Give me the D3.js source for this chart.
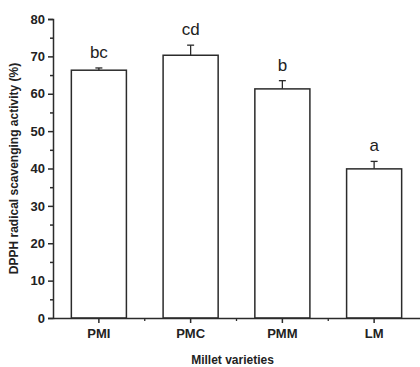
<!DOCTYPE html>
<html>
<head>
<meta charset="utf-8">
<script src="https://cdn.jsdelivr.net/npm/d3@7"></script>
<style>
  body { margin: 0; background: #fff; }
  svg text { font-family: "Liberation Sans", Arial, sans-serif; }
</style>
</head>
<body>
<div id="chart"></div>
<script>
// values
const varieties = ['PMI', 'PMC', 'PMM', 'LM'];
const activity = [66.3, 70.3, 61.3, 39.9];
const errors = [0.6, 2.7, 2.2, 2.0];
const letters = ['bc', 'cd', 'b', 'a'];
const yTicks = [0, 10, 20, 30, 40, 50, 60, 70, 80];

const data = varieties.map((name, i) => ({ name, value: activity[i], err: errors[i], letter: letters[i] }));

const width = 420, height = 367;
const margin = { top: 19, right: 0, bottom: 49, left: 53 };
const ink = '#2b2b2b';

const svg = d3.select('#chart')
  .append('svg')
  .attr('width', width)
  .attr('height', height);

const x = d3.scaleBand()
  .domain(varieties)
  .range([margin.left, width - margin.right])
  .paddingInner(0.4)
  .paddingOuter(0.2);

const y = d3.scaleLinear()
  .domain([0, 80])
  .range([height - margin.bottom, margin.top]);

// bars
svg.selectAll('.bar')
  .data(data)
  .enter()
  .append('rect')
  .attr('class', 'bar')
  .attr('x', d => x(d.name))
  .attr('y', d => y(d.value))
  .attr('width', x.bandwidth())
  .attr('height', d => y(0) - y(d.value))
  .attr('fill', '#fff')
  .attr('stroke', ink)
  .attr('stroke-width', 1.5);

// error bars (upper half only)
const eb = svg.selectAll('.err')
  .data(data)
  .enter()
  .append('g')
  .attr('class', 'err')
  .attr('stroke', ink)
  .attr('stroke-width', 1.3);

eb.append('line')
  .attr('x1', d => x(d.name) + x.bandwidth() / 2)
  .attr('x2', d => x(d.name) + x.bandwidth() / 2)
  .attr('y1', d => y(d.value))
  .attr('y2', d => y(d.value + d.err));

eb.append('line')
  .attr('x1', d => x(d.name) + x.bandwidth() / 2 - 3.5)
  .attr('x2', d => x(d.name) + x.bandwidth() / 2 + 3.5)
  .attr('y1', d => y(d.value + d.err))
  .attr('y2', d => y(d.value + d.err));

// significance letters
svg.selectAll('.letter')
  .data(data)
  .enter()
  .append('text')
  .attr('class', 'letter')
  .attr('x', d => x(d.name) + x.bandwidth() / 2)
  .attr('y', d => y(d.value + d.err) - 10)
  .attr('text-anchor', 'middle')
  .attr('font-size', '17px')
  .attr('fill', '#222')
  .text(d => d.letter);

// y axis
svg.append('g')
  .attr('transform', `translate(${margin.left},0)`)
  .call(d3.axisLeft(y).tickValues(yTicks).tickSize(5).tickPadding(3));

svg.append('g')
  .attr('transform', `translate(${margin.left},0)`)
  .call(d3.axisLeft(y).tickValues(d3.range(5, 80, 10)).tickSize(3).tickFormat(''))
  .select('.domain').remove();

// x axis
svg.append('g')
  .attr('transform', `translate(0,${y(0)})`)
  .call(d3.axisBottom(x).tickSize(5).tickPadding(6).tickSizeOuter(0));

const between = varieties.slice(0, -1).map(v => x(v) + x.bandwidth() / 2 + x.step() / 2);
svg.append('g')
  .selectAll('line')
  .data(between)
  .enter()
  .append('line')
  .attr('x1', d => d)
  .attr('x2', d => d)
  .attr('y1', y(0))
  .attr('y2', y(0) + 3)
  .attr('stroke', ink)
  .attr('stroke-width', 1.3);

svg.selectAll('.domain, .tick line')
  .attr('stroke', ink)
  .attr('stroke-width', 1.5);

svg.selectAll('.tick text')
  .attr('font-size', '13px')
  .attr('font-weight', 'bold')
  .attr('fill', '#222');

// axis titles
svg.append('text')
  .attr('transform', `translate(18,${(y(0) + y(80)) / 2}) rotate(-90)`)
  .attr('text-anchor', 'middle')
  .attr('font-size', '12px')
  .attr('font-weight', 'bold')
  .attr('fill', '#222')
  .text('DPPH radical scavenging activity (%)');

svg.append('text')
  .attr('x', (margin.left + width) / 2 - 4)
  .attr('y', 364)
  .attr('text-anchor', 'middle')
  .attr('font-size', '12px')
  .attr('font-weight', 'bold')
  .attr('fill', '#222')
  .text('Millet varieties');
</script>
</body>
</html>
